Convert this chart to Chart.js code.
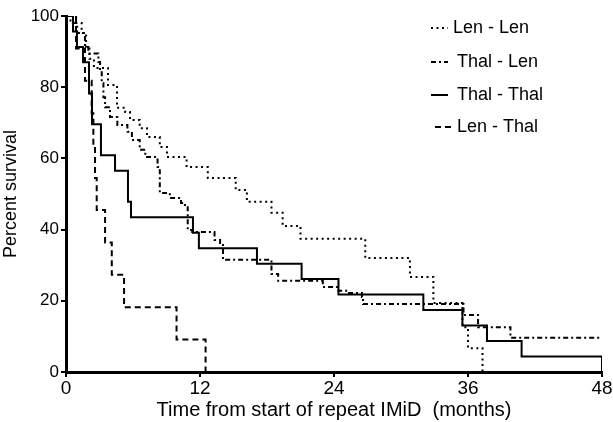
<!DOCTYPE html>
<html>
<head>
<meta charset="utf-8">
<script src="https://cdn.jsdelivr.net/npm/chart.js@4"></script>
<style>
  html, body { margin: 0; padding: 0; background: #fff; }
  #wrap { width: 613px; height: 422px; }
</style>
</head>
<body>
<div id="wrap"><canvas id="myChart" width="613" height="422"></canvas></div>
<script>
// Kaplan-Meier steps: time (months) of each drop and survival after it
const lenLenTime = [0, 0.9, 1.4, 1.8, 2.1, 2.5, 3.76, 4.57, 5.3, 5.73, 6.6, 7.25, 8.4, 9.04, 10.8, 12.7, 15.2, 16.2, 18.4, 19.4, 21.0, 26.8, 30.8, 32.9, 35.5, 36.0, 37.3];
const lenLenSurv = [100, 98, 95.2, 91.3, 88, 85.4, 80.6, 74.2, 73, 70.8, 68.5, 66, 63.2, 60.4, 57.6, 54.5, 51.1, 47.8, 44.7, 41, 37.4, 32, 26.7, 19.4, 12.6, 6.7, 0];

const thalLenTime = [0, 0.4, 1.0, 1.7, 2.0, 2.9, 3.05, 3.2, 3.35, 3.5, 3.94, 4.6, 5.5, 5.9, 6.6, 7.1, 8.2, 8.4, 9.3, 10.3, 10.65, 10.9, 11.3, 13.3, 13.8, 14.06, 18.4, 19.0, 23.0, 24.4, 25.2, 26.5, 26.6, 35.6, 36.9, 39.8, 48];
const thalLenSurv = [100, 98, 95.2, 91.3, 89.5, 87.1, 84.8, 81.2, 77.2, 74.4, 71.6, 69.4, 67.5, 65.2, 62.4, 60.4, 57.6, 50.3, 48.9, 47.5, 46.9, 39.9, 39.3, 37.1, 35.7, 31.5, 27.5, 25.6, 23.9, 22.8, 22.2, 21.1, 19.1, 16, 12.6, 9.6, 9.6];

const thalThalTime = [0, 0.63, 0.98, 1.52, 2.06, 2.33, 3.13, 4.39, 5.55, 5.82, 11.37, 11.9, 17.1, 21.1, 24.4, 32.0, 35.5, 37.7, 40.8, 48];
const thalThalSurv = [100, 95.65, 91.3, 87.0, 78.26, 69.57, 60.87, 56.52, 47.83, 43.48, 39.13, 34.78, 30.43, 26.09, 21.74, 17.39, 13.04, 8.7, 4.35, 0];

const lenThalTime = [0, 0.9, 1.7, 2.3, 2.45, 2.6, 2.75, 3.5, 4.1, 5.2, 9.9, 12.5];
const lenThalSurv = [100, 90.9, 81.8, 72.7, 63.6, 54.5, 45.5, 36.4, 27.3, 18.2, 9.1, 0];

const groupLabels = ['Len - Len', 'Thal - Len', 'Thal - Thal', 'Len - Thal'];
const xTicks = [0, 12, 24, 36, 48];
const yTicks = [0, 20, 40, 60, 80, 100];

function toPoints(times, surv) {
    return times.map((t, i) => ({ x: t, y: surv[i] }));
}

Chart.defaults.font.family = '"Liberation Sans", Arial, sans-serif';
Chart.defaults.color = '#000';

// legend drawn top right, with line samples
const legendBox = {
    id: 'legendBox',
    afterDatasetsDraw(chart) {
        const c = chart.ctx;
        const rows = [28, 62, 95, 127];
        c.save();
        c.font = '18px "Liberation Sans", Arial, sans-serif';
        c.textBaseline = 'middle';
        c.fillStyle = '#000';
        chart.data.datasets.forEach((ds, i) => {
            let y = rows[i];
            c.strokeStyle = '#000';
            c.lineWidth = 2;
            c.setLineDash(ds.borderDash || []);
            c.beginPath();
            c.moveTo(i == 3 ? 435 : 431, y);
            c.lineTo(i == 3 ? 452 : 448, y);
            c.stroke();
            c.setLineDash([]);
            c.fillText(ds.label, i == 0 ? 453 : 457, y);
        });
        c.restore();
    }
};

const ctx = document.getElementById('myChart');
const chart = new Chart(ctx, {
    type: 'line',
    data: {
        datasets: [{
            label: groupLabels[0],
            data: toPoints(lenLenTime, lenLenSurv),
            borderColor: '#000',
            borderDash: [2, 3.5]
        }, {
            label: groupLabels[1],
            data: toPoints(thalLenTime, thalLenSurv),
            borderColor: '#000',
            borderDash: [5, 3, 2, 3]
        }, {
            label: groupLabels[2],
            data: toPoints(thalThalTime, thalThalSurv),
            borderColor: '#000',
            borderDash: []
        }, {
            label: groupLabels[3],
            data: toPoints(lenThalTime, lenThalSurv),
            borderColor: '#000',
            borderDash: [6, 4]
        }]
    },
    options: {
        responsive: false,
        animation: false,
        layout: { padding: { top: 16, right: 11, left: 0, bottom: 0 } },
        datasets: {
            line: {
                stepped: 'before',
                borderWidth: 2,
                pointRadius: 0,
                fill: false
            }
        },
        plugins: {
            legend: { display: false },
            tooltip: { enabled: false }
        },
        scales: {
            x: {
                type: 'linear',
                min: 0,
                max: 48,
                afterFit: (s) => { s.height = 50; },
                afterBuildTicks: (s) => { s.ticks = xTicks.map(v => ({ value: v })); },
                ticks: { font: { size: 19 }, padding: 0, maxRotation: 0 },
                grid: { drawOnChartArea: false, drawTicks: true, tickLength: 5, color: '#000', lineWidth: 2 },
                border: { color: '#000', width: 3 },
                title: {
                    display: true,
                    text: 'Time from start of repeat IMiD  (months)',
                    font: { size: 20 },
                    padding: { top: 0, bottom: 0 }
                }
            },
            y: {
                min: 0,
                max: 100,
                afterFit: (s) => { s.width = 66; },
                afterBuildTicks: (s) => { s.ticks = yTicks.map(v => ({ value: v })); },
                ticks: { font: { size: 17 }, padding: 2 },
                grid: { drawOnChartArea: false, drawTicks: true, tickLength: 5, color: '#000', lineWidth: 2 },
                border: { color: '#000', width: 3 },
                title: {
                    display: true,
                    text: 'Percent survival',
                    font: { size: 18 },
                    padding: { top: 0, bottom: 2 }
                }
            }
        }
    },
    plugins: [legendBox]
});
</script>
</body>
</html>
